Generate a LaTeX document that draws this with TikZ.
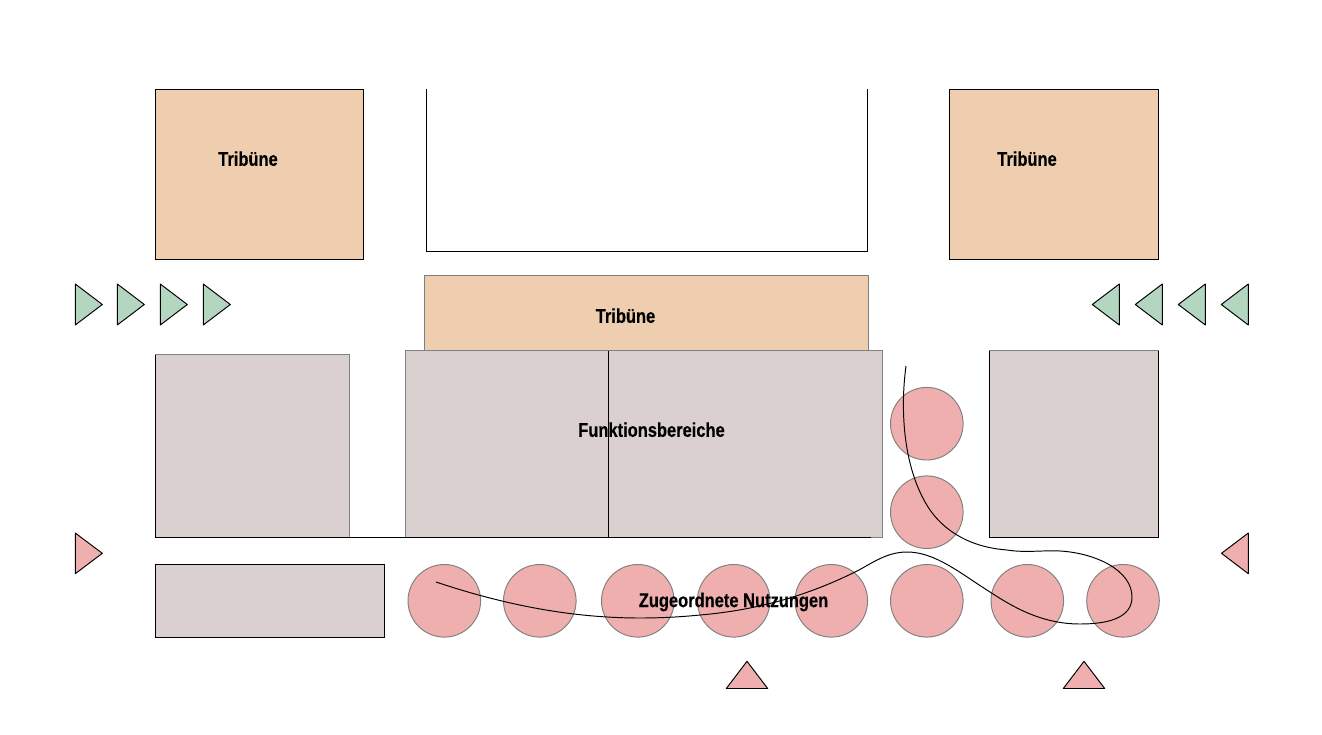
\documentclass[tikz,border=0pt]{standalone}
\usepackage{fontspec}
\setmainfont[FakeStretch=0.83,FakeBold=0.3]{Liberation Sans}
\definecolor{tribune}{HTML}{EFCEAF}
\definecolor{funktion}{HTML}{DAD0CF}
\definecolor{nutzung}{HTML}{EFAFAF}
\definecolor{zugang}{HTML}{B3D6C1}
\tikzset{
  block/.style={draw=gray,line width=0.5pt},
  edge/.style={draw=black,line width=0.55pt},
  pointer/.style={draw=black,line width=0.55pt,line join=round},
  disc/.style={draw=gray,line width=0.55pt,fill=nutzung},
  caption/.style={inner sep=0pt,font=\fontsize{11.3}{13}\selectfont\bfseries}
}
\begin{document}
\begin{tikzpicture}[x=0.02cm,y=-0.02cm]
	\useasboundingbox (0,0) rectangle (1322,734);
	% tribunes
	\draw[edge,fill=tribune] (155.5,89.5) rectangle (363.5,259.5);
	\draw[edge,fill=tribune] (949.5,89.5) rectangle (1158.5,259.5);
	\draw[edge] (426.5,89) -- (426.5,251.5) -- (867.5,251.5) -- (867.5,89);
	\draw[block,fill=tribune] (424.5,275.5) rectangle (868.5,350.5);
	% function areas
	\draw[block,fill=funktion] (155.5,354.5) rectangle (349.5,537.5);
	\draw[block,fill=funktion] (405.5,350.5) rectangle (882.5,537.5);
	\draw[block,fill=funktion] (989.5,350.5) rectangle (1158.5,537.5);
	\draw[edge,fill=funktion] (155.5,564.5) rectangle (384.5,637.5);
	\draw[edge] (155.5,354.5) -- (155.5,537.5) -- (871,537.5);
	\draw[edge] (608.5,350.5) -- (608.5,537.5);
	\draw[edge] (989.5,350.5) -- (989.5,537.5) -- (1158.5,537.5) -- (1158.5,350.5);
	% discs
	\foreach \x in {444.3,539.8,637.8,733.7,831.3,926.8,1027.3,1123}
		\draw[disc] (\x,600.8) circle (36.3);
	\foreach \y in {423.7,512.2}
		\draw[disc] (926.8,\y) circle (36.3);
	% entrances
	\foreach \x in {75.3,117.3,160.3,203.3}
		\draw[pointer,fill=zugang] (\x,284) -- (\x+27,304.5) -- (\x,325) -- cycle;
	\foreach \x in {1119.3,1162.3,1205.3,1248.3}
		\draw[pointer,fill=zugang] (\x,284) -- (\x-27,304.5) -- (\x,325) -- cycle;
	\draw[pointer,fill=nutzung] (75.3,533) -- (102.3,553.3) -- (75.3,573.7) -- cycle;
	\draw[pointer,fill=nutzung] (1248.3,533) -- (1221.5,553.3) -- (1248.3,573.7) -- cycle;
	\foreach \x in {747,1084}
		\draw[pointer,fill=nutzung] (\x-20.7,688.5) -- (\x,661.3) -- (\x+20.7,688.5) -- cycle;
	% route
	\draw[line width=0.55pt] (906,366) .. controls (900,410) and (903,470) .. (930,510)
		.. controls (950,538) and (980,548) .. (1007,550)
		.. controls (1025,553) and (1045,550) .. (1060,551)
		.. controls (1095,553) and (1132,570) .. (1132,597)
		.. controls (1132,618) and (1108,624) .. (1080,624)
		.. controls (1040,624) and (1010,605) .. (990,592)
		.. controls (960,573) and (935,552) .. (907,552)
		.. controls (885,552) and (870,565) .. (853,573)
		.. controls (810,594) and (760,610) .. (700,615)
		.. controls (680,617) and (660,618) .. (640,618)
		.. controls (560,618) and (490,600) .. (436,582);
	% labels
	\node[caption] (tribuneWest) at (248,158.7) {Tribüne};
	\node[caption] (tribuneEast) at (1027,158.7) {Tribüne};
	\node[caption] (tribuneMid) at (625.5,315.7) {Tribüne};
	\node[caption] (funktionen) at (651.5,429.7) {Funktionsbereiche};
	\node[caption] (nutzungen) at (733.5,602) {Zugeordnete Nutzungen};
\end{tikzpicture}
\end{document}
